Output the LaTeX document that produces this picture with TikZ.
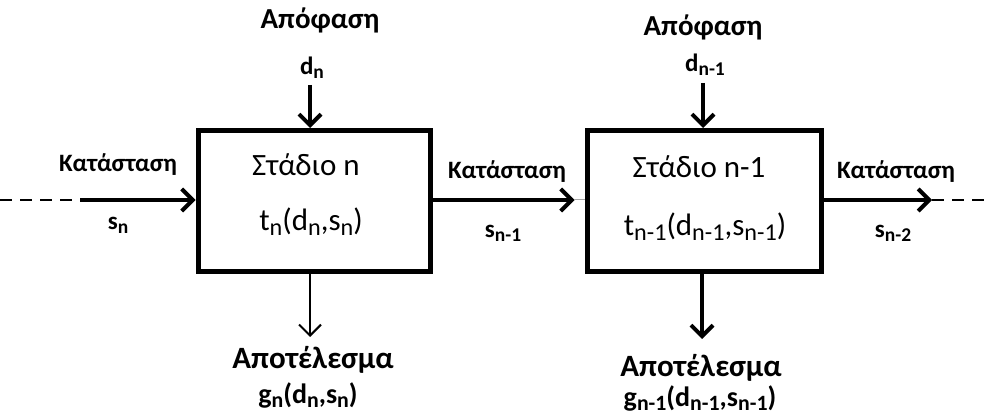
\documentclass[tikz,border=0pt]{standalone}
\usepackage{fontspec}
\setmainfont{Carlito}
\usetikzlibrary{arrows.meta, positioning}

\newcommand{\lo}[1]{\raisebox{-0.35ex}{\scalebox{0.78}{#1}}}

\begin{document}
\begin{tikzpicture}[
		x=1pt, y=-1pt,
		% Stage box styles
		stagebox/.style={draw=black, line width=5pt, minimum width=232pt, minimum height=141pt, inner sep=0pt},
		stagetext/.style={font=\fontsize{31}{36}\selectfont, inner sep=0pt},
		% Label styles
		lbl/.style={font=\bfseries\fontsize{25}{30}\selectfont, inner sep=0pt},
		biglbl/.style={font=\bfseries\fontsize{29}{34}\selectfont, inner sep=0pt},
		% Arrow styles
		flow/.style={line width=4pt, -{Straight Barb[length=11pt, width=22pt]}},
		thinflow/.style={line width=2pt, -{Straight Barb[length=11pt, width=22pt]}},
		cont/.style={line width=1.3pt, dashed, dash pattern=on 12pt off 8pt}
		]
		\useasboundingbox (0,0) rectangle (990,419);
		
		% --- STAGES ---
		\node[stagebox] (stage1) at (314,201) {};
		\node[stagetext] (title1) at (306,165) {Στάδιο n};
		\node[stagetext] (trans1) at (311,222) {t\lo{n}(d\lo{n},s\lo{n})};
		
		\node[stagebox, minimum width=234pt] (stage2) at (704,201) {};
		\node[stagetext] (title2) at (699,167) {Στάδιο n-1};
		\node[stagetext] (trans2) at (705,227) {t\lo{n-1}(d\lo{n-1},s\lo{n-1})};
		
		% --- DECISIONS ---
		\node[biglbl] (dec1) at (320,20) {Απόφαση};
		\node[lbl] (d1) at (312,68) {d\lo{n}};
		\node[biglbl] (dec2) at (703,27) {Απόφαση};
		\node[lbl] (d2) at (705,65) {d\lo{n-1}};
		\coordinate (dtop1) at (310,85);
		\coordinate (dtop2) at (703,83);
		\draw[flow] (dtop1) -- (stage1.north -| dtop1);
		\draw[flow] (dtop2) -- (stage2.north -| dtop2);
		
		% --- RETURNS ---
		\node[biglbl, font=\bfseries\fontsize{31}{36}\selectfont] (ret1) at (313,360) {Αποτέλεσμα};
		\node[lbl, font=\bfseries\fontsize{28}{33}\selectfont] (g1) at (308,395) {g\lo{n}(d\lo{n},s\lo{n})};
		\node[biglbl, font=\bfseries\fontsize{31}{36}\selectfont] (ret2) at (701,368) {Αποτέλεσμα};
		\node[lbl, font=\bfseries\fontsize{28}{33}\selectfont] (g2) at (700,398) {g\lo{n-1}(d\lo{n-1},s\lo{n-1})};
		\coordinate (gend1) at (310,337);
		\coordinate (gend2) at (702,339);
		\draw[thinflow] (stage1.south -| gend1) -- (gend1);
		\draw[flow] (stage2.south -| gend2) -- (gend2);
		
		% --- STATES ---
		\node[lbl] (st0) at (118,165) {Κατάσταση};
		\node[lbl] (s0) at (118,225) {s\lo{n}};
		\node[lbl] (st1) at (507,172) {Κατάσταση};
		\node[lbl] (s1) at (503,233) {s\lo{n-1}};
		\node[lbl] (st2) at (896,172) {Κατάσταση};
		\node[lbl] (s2) at (893,233) {s\lo{n-2}};
		
		\coordinate (farleft) at (0,200);
		\coordinate (inleft) at (80,200);
		\coordinate (outright) at (932,200);
		\coordinate (farright) at (990,200);
		\draw[cont] (farleft) -- (inleft);
		\draw[flow] (inleft) -- (stage1.west |- inleft);
		\draw[flow, shorten >=10pt] (stage1.east |- inleft) -- (stage2.west |- inleft);
		\draw[black!35, line width=1pt] ([xshift=-11pt]stage2.west |- inleft) -- (stage2.west |- inleft);
		\draw[flow] (stage2.east |- outright) -- (outright);
		\draw[cont] (outright) -- (farright);
		
	\end{tikzpicture}
\end{document}
